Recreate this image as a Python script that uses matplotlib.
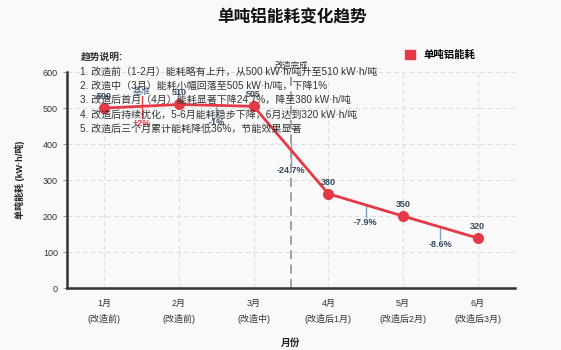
import matplotlib
matplotlib.use("Agg")
import matplotlib.pyplot as plt
from matplotlib.patches import Patch

plt.rcParams['font.family'] = ['Liberation Sans', 'Noto Sans CJK SC', 'DejaVu Sans']

months = ["1月", "2月", "3月", "4月", "5月", "6月"]
phases = ["(改造前)", "(改造前)", "(改造中)", "(改造后1月)", "(改造后2月)", "(改造后3月)"]
plot_values = [500, 510, 505, 262, 200, 139]
value_labels = ["500", "510", "505", "380", "350", "320"]
change_labels = ["+2%", "-1%", "-24.7%", "-7.9%", "-8.6%"]
notes_title = "趋势说明:"
notes = [
    "1. 改造前（1-2月）能耗略有上升，从500 kW·h/吨升至510 kW·h/吨",
    "2. 改造中（3月）能耗小幅回落至505 kW·h/吨，下降1%",
    "3. 改造后首月（4月）能耗显著下降24.7%，降至380 kW·h/吨",
    "4. 改造后持续优化，5-6月能耗稳步下降，6月达到320 kW·h/吨",
    "5. 改造后三个月累计能耗降低36%，节能效果显著",
]

RED = "#e63946"
DARK = "#34495e"
BLUE_LINE = "#7f9fbf"
BG = "#f9f9f9"
PX = 0.72  # points per pixel at dpi 100

fig = plt.figure(figsize=(5.61, 3.5), dpi=100, facecolor=BG)
ax = fig.add_axes([0.1194, 0.177, 0.7986, 0.617], facecolor=BG)

x = list(range(len(months)))
ax.plot(x, plot_values, color=RED, lw=2, marker='o', ms=7, zorder=4)

ax.set_xlim(-0.5, 5.5)
ax.set_ylim(0, 600)
ax.set_yticks(range(0, 601, 100))
ax.set_xticks(x)
ax.set_xticklabels([f"{m}\n{p}" for m, p in zip(months, phases)], fontsize=6.5, color="#333333", linespacing=1.7)
ax.tick_params(axis='y', labelsize=6.5, labelcolor="#333333", length=3, width=0.8, color="#999999")
ax.tick_params(axis='x', length=0, pad=8)
ax.grid(True, color="#dddddd", ls=(0, (4, 3)), lw=0.8)
ax.set_axisbelow(True)
for s in ["top", "right"]:
    ax.spines[s].set_visible(False)
for s in ["left", "bottom"]:
    ax.spines[s].set_linewidth(1.8)
    ax.spines[s].set_color("#333333")

ax.set_xlabel("月份", fontsize=7, fontweight='bold', color="#222222", labelpad=10)
ax.set_ylabel("单吨能耗 (kW·h/吨)", fontsize=6.5, fontweight='bold', color="#222222", labelpad=13)

# value labels
for xi, v, lab in zip(x, plot_values, value_labels):
    ax.annotate(lab, (xi, v), xytext=(0, 7 * PX), textcoords='offset points',
                ha='center', va='bottom', fontsize=6.5, fontweight='bold', color=DARK, zorder=6)

# change annotations
for i, lab in enumerate(change_labels):
    mx = (x[i] + x[i + 1]) / 2
    my = (plot_values[i] + plot_values[i + 1]) / 2
    col = RED if lab.startswith("+") else DARK
    lcol = RED if lab.startswith("+") else BLUE_LINE
    up = 10 if i == 0 else (7 if i == 2 else 0)
    down = 12 if i != 2 else 15
    ax.plot([mx, mx], [my + up / 0.36, my - down / 0.36], color=lcol, lw=1.0, zorder=3)
    ax.annotate(lab, (mx, my), xytext=(0, -(down + 1) * PX), textcoords='offset points',
                ha='center', va='top', fontsize=6.5, fontweight='bold', color=col, zorder=6)
    if i == 0:
        ax.annotate("基准", (mx, my), xytext=(0, 10 * PX), textcoords='offset points',
                    ha='center', va='bottom', fontsize=6.5, color="#4a6f95", zorder=6)

# renovation line
ax.axvline(2.5, color="#999999", ls=(0, (5, 3)), lw=1.3, zorder=2)
ax.text(2.5, 606, "改造完成", ha='center', va='bottom', fontsize=6, color="#333333")

# notes
ax.text(0.03, 1.07, notes_title, transform=ax.transAxes, fontsize=7, fontweight='bold',
        color="#333333", va='center', ha='left')
for k, line in enumerate(notes):
    ax.text(0.03, 1.07 - (k + 1) * 0.0665, line, transform=ax.transAxes, fontsize=7.2,
            color="#333333", va='center', ha='left', zorder=7)

# legend
fig.legend(handles=[Patch(facecolor=RED, edgecolor=RED)], labels=["单吨铝能耗"],
           loc='center left', bbox_to_anchor=(0.705, 0.843), frameon=False,
           prop={'size': 7.5, 'weight': 'bold'}, handlelength=1.0, handleheight=1.0, handletextpad=0.8)

fig.text(0.52, 0.95, "单吨铝能耗变化趋势", ha='center', va='center', fontsize=12,
         fontweight='bold', color="#111111")

fig.savefig("out.png", dpi=100, facecolor=BG)
